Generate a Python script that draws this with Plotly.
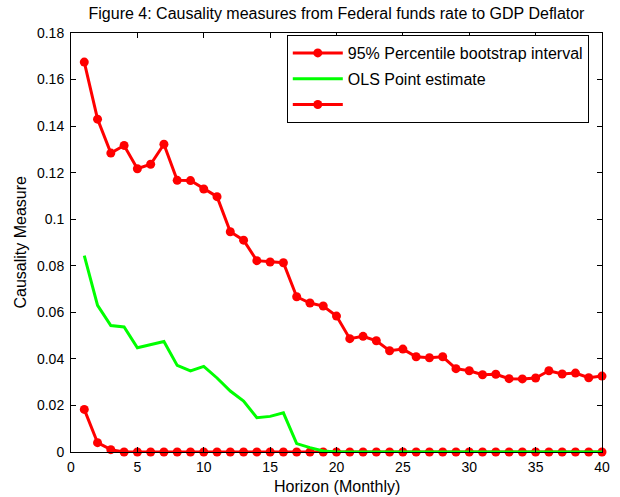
import plotly.graph_objects as go

horizon = list(range(1, 41))
upper = [0.1675, 0.143, 0.1284, 0.1317, 0.1217, 0.1236, 0.1322, 0.1167, 0.1166, 0.113,
         0.1097, 0.0946, 0.0910, 0.0822, 0.0816, 0.0813, 0.0667, 0.0640, 0.0627, 0.0584,
         0.0487, 0.0497, 0.0478, 0.0435, 0.0442, 0.0409, 0.0405, 0.0409, 0.0358, 0.0349,
         0.0332, 0.0334, 0.0315, 0.0314, 0.0318, 0.0349, 0.0335, 0.0339, 0.0319, 0.0326]
ols = [0.0844, 0.063, 0.0543, 0.0537, 0.0448, 0.0462, 0.0475, 0.0372, 0.0348, 0.0368,
       0.0318, 0.0262, 0.0219, 0.0147, 0.0153, 0.0168, 0.0036, 0.0019, 0.0004, 0.0,
       0, 0, 0, 0, 0, 0, 0, 0, 0, 0, 0, 0, 0, 0, 0, 0, 0, 0, 0, 0]
lower = [0.0183, 0.004, 0.001] + [0.0] * 37

xticks = [0, 5, 10, 15, 20, 25, 30, 35, 40]
yticks = [0, 0.02, 0.04, 0.06, 0.08, 0.1, 0.12, 0.14, 0.16, 0.18]
yticklabels = ["0", "0.02", "0.04", "0.06", "0.08", "0.1", "0.12", "0.14", "0.16", "0.18"]

RED = "#FF0000"
GREEN = "#00FF00"

fig = go.Figure()
fig.add_trace(go.Scatter(x=horizon, y=upper, mode="lines+markers",
                         name="95% Percentile bootstrap interval", legendrank=1,
                         legendgroup="a", cliponaxis=False,
                         line=dict(color=RED, width=3), marker=dict(color=RED, size=9)))
fig.add_trace(go.Scatter(x=horizon, y=lower, mode="lines+markers", name=" ", legendrank=3,
                         legendgroup="c", cliponaxis=False,
                         line=dict(color=RED, width=3), marker=dict(color=RED, size=9)))
fig.add_trace(go.Scatter(x=horizon, y=ols, mode="lines", name="OLS Point estimate",
                         legendrank=2, legendgroup="b", cliponaxis=False,
                         line=dict(color=GREEN, width=3)))

axis_common = dict(showline=True, linecolor="black", linewidth=1, mirror="ticks",
                   ticks="inside", ticklen=5, tickcolor="black", showgrid=False,
                   zeroline=False, automargin=False,
                   tickfont=dict(size=14, color="black"))

fig.update_layout(
    width=620, height=497,
    margin=dict(l=71, r=17.5, t=33, b=45),
    paper_bgcolor="white", plot_bgcolor="white",
    font=dict(family="Liberation Sans, Arial, sans-serif", size=14, color="black"),
    title=dict(text="Figure 4: Causality measures from Federal funds rate to GDP Deflator",
               x=0.5, xanchor="center", xref="paper", y=1 - 13 / 497, yanchor="middle",
               automargin=False, font=dict(size=16, color="black")),
    xaxis=dict(range=[0, 40], tickvals=xticks, ticklabelstandoff=2, **axis_common),
    yaxis=dict(range=[0, 0.18], tickvals=yticks, ticktext=yticklabels,
               ticklabelstandoff=3, **axis_common),
    legend=dict(x=(287 - 71) / 531.5, y=(452 - 35) / 419, xanchor="left", yanchor="top",
                bordercolor="black", borderwidth=1, bgcolor="white",
                font=dict(size=16), itemwidth=50, tracegroupgap=2),
    showlegend=True,
    annotations=[
        dict(text="Horizon (Monthly)", xref="paper", yref="paper", x=0.5, y=0,
             yshift=-34, xanchor="center", yanchor="middle", showarrow=False,
             font=dict(size=16, color="black")),
        dict(text="Causality Measure", xref="paper", yref="paper", x=0, y=0.5,
             xshift=-51, xanchor="center", yanchor="middle", showarrow=False,
             textangle=-90, font=dict(size=16, color="black")),
    ],
)

fig.write_html("out.html", post_script="document.body.style.margin='0';",
               config={"displayModeBar": False})
